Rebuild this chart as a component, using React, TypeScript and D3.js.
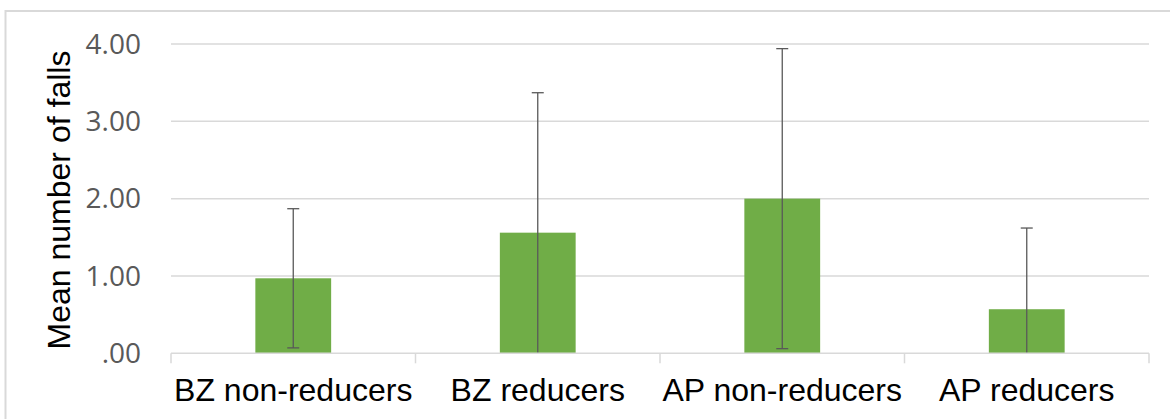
import React from "react";
import * as d3 from "d3";

const categories = ["BZ non-reducers", "BZ reducers", "AP non-reducers", "AP reducers"];
const means = [0.97, 1.56, 2.0, 0.57];
const errors = [0.9, 1.81, 1.94, 1.05];
const yTicks = [0, 1, 2, 3, 4];
const yTickLabels = [".00", "1.00", "2.00", "3.00", "4.00"];

const W = 1170;
const H = 419;
const left = 171;
const right = 1149;
const top = 44;
const bottom = 353.3;

export default function App() {
  const x = d3.scaleBand<string>().domain(categories).range([left, right]).paddingInner(0.69).paddingOuter(0.345);
  const y = d3.scaleLinear().domain([0, 4]).range([bottom, top]);
  const step = (right - left) / categories.length;
  const capW = 12;
  const grid = "#D9D9D9";

  return (
    <svg width={W} height={H} style={{ position: "absolute", left: 0, top: 0, background: "#fff" }}>
      <rect x={5.5} y={11} width={3000} height={3000} fill="#fff" stroke="#D9D9D9" strokeWidth={2} />
      {yTicks.map((t, i) => (
        <g key={t}>
          {t !== 0 && <line x1={left} x2={right} y1={y(t)} y2={y(t)} stroke={grid} strokeWidth={1.5} />}
          <text x={141} y={y(t)} dy="0.35em" textAnchor="end" fontFamily="'Open Sans', sans-serif" fontSize={28} fill="#595959">
            {yTickLabels[i]}
          </text>
        </g>
      ))}
      {categories.map((c, i) => {
        const xc = (x(c) as number) + x.bandwidth() / 2;
        const lo = Math.max(0, means[i] - errors[i]);
        const hi = means[i] + errors[i];
        return (
          <g key={c}>
            <rect x={x(c)} y={y(means[i])} width={x.bandwidth()} height={y(0) - y(means[i])} fill="#70AD47" />
            <line x1={xc} x2={xc} y1={y(lo)} y2={y(hi)} stroke="#595959" strokeWidth={1.3} />
            <line x1={xc - capW / 2} x2={xc + capW / 2} y1={y(hi)} y2={y(hi)} stroke="#595959" strokeWidth={1.3} />
            {means[i] - errors[i] > 0 && (
              <line x1={xc - capW / 2} x2={xc + capW / 2} y1={y(lo)} y2={y(lo)} stroke="#595959" strokeWidth={1.3} />
            )}
            <text x={xc} y={401} textAnchor="middle" fontFamily="'Liberation Sans', Arial, sans-serif" fontSize={32} fill="#000">
              {c}
            </text>
          </g>
        );
      })}
      <line x1={left} x2={right} y1={y(0)} y2={y(0)} stroke={grid} strokeWidth={1.5} />
      {d3.range(categories.length + 1).map((i) => (
        <line key={i} x1={left + i * step} x2={left + i * step} y1={y(0)} y2={y(0) + 10} stroke={grid} strokeWidth={1.5} />
      ))}
      <text
        transform={`translate(70,200) rotate(-90)`}
        textAnchor="middle"
        fontFamily="'Liberation Sans', Arial, sans-serif"
        fontSize={32}
        fill="#000"
      >
        Mean number of falls
      </text>
    </svg>
  );
}
